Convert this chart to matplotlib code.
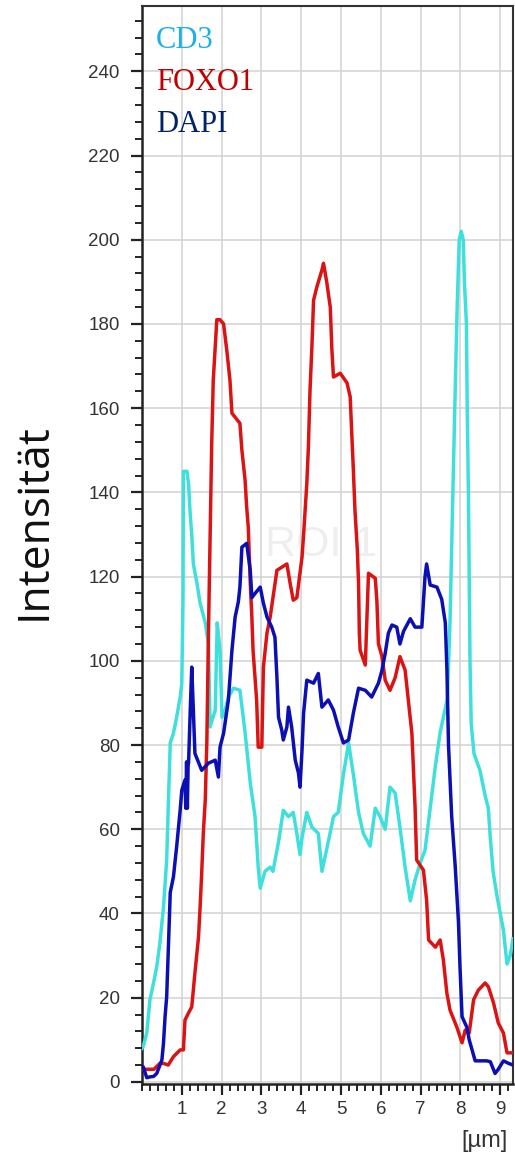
import matplotlib.pyplot as plt
from matplotlib.ticker import MultipleLocator

# profile values (x in µm, intensity)
cd3_x = [0.00, 0.03, 0.12, 0.20, 0.29, 0.37, 0.45, 0.54, 0.58, 0.62, 0.66, 0.71, 0.79, 0.87,
         0.96, 1.00, 1.03, 1.04, 1.13, 1.17, 1.21, 1.25, 1.29, 1.38, 1.46, 1.59, 1.67, 1.69,
         1.71, 1.84, 1.89, 1.96, 2.01, 2.09, 2.17, 2.30, 2.46, 2.59, 2.72, 2.84, 2.92, 2.97,
         3.09, 3.22, 3.29, 3.43, 3.55, 3.68, 3.80, 3.89, 3.97, 4.02, 4.14, 4.27, 4.43, 4.52,
         4.68, 4.81, 4.93, 5.06, 5.19, 5.31, 5.44, 5.56, 5.73, 5.86, 5.98, 6.11, 6.23, 6.36,
         6.48, 6.61, 6.74, 6.86, 6.99, 7.11, 7.24, 7.37, 7.49, 7.67, 7.74, 7.81, 7.87, 7.92,
         7.97, 8.02, 8.07, 8.10, 8.15, 8.17, 8.20, 8.22, 8.24, 8.27, 8.34, 8.49, 8.62, 8.70,
         8.75, 8.82, 8.92, 9.00, 9.08, 9.17, 9.25, 9.32]
cd3_y = [8, 8.4, 11.6, 19.5, 23.5, 27.3, 33, 41.5, 47, 52.7, 65.3, 80.5, 82.8, 86.6,
         91.4, 94.7, 114, 145, 145, 142, 135, 130, 123, 118.5, 113.7, 109, 104, 94.7,
         84.3, 88.3, 109, 102.5, 86.6, 88.3, 91.4, 93.5, 93, 83, 71, 63, 51, 46,
         50, 51, 50, 57, 64.5, 63, 64, 59, 54, 58, 64, 60.5, 59, 50,
         57, 63, 64, 73, 80.5, 73, 64, 59, 56, 65, 63, 60, 70, 68.6,
         60.5, 51, 43, 48, 52, 55, 65, 75, 83, 91, 110, 140, 165, 185,
         200, 202, 200, 190, 180, 160, 140, 120, 100, 85, 78, 74, 68, 65,
         58, 50, 44, 40, 36, 28, 30, 34]

foxo1_x = [0.00, 0.30, 0.45, 0.54, 0.66, 0.79, 0.96, 1.04, 1.08, 1.17, 1.25, 1.33, 1.42, 1.46,
           1.50, 1.54, 1.59, 1.63, 1.67, 1.71, 1.75, 1.79, 1.88, 1.96, 2.05, 2.13, 2.21, 2.26,
           2.46, 2.51, 2.59, 2.63, 2.67, 2.72, 2.76, 2.79, 2.88, 2.92, 3.01, 3.05, 3.14, 3.22,
           3.39, 3.64, 3.72, 3.80, 3.89, 4.02, 4.06, 4.14, 4.18, 4.22, 4.27, 4.31, 4.39, 4.52,
           4.56, 4.64, 4.73, 4.77, 4.81, 4.98, 5.15, 5.23, 5.27, 5.31, 5.35, 5.41, 5.44, 5.46,
           5.48, 5.61, 5.65, 5.69, 5.86, 5.90, 5.94, 6.03, 6.11, 6.23, 6.36, 6.48, 6.61, 6.69,
           6.78, 6.86, 6.90, 7.07, 7.15, 7.20, 7.37, 7.49, 7.57, 7.66, 7.74, 7.91, 8.04, 8.12,
           8.22, 8.33, 8.45, 8.62, 8.70, 8.83, 8.95, 9.08, 9.17, 9.32]
foxo1_y = [3, 3, 4.4, 4.4, 4, 6, 7.6, 7.6, 14.7, 16.4, 17.8, 25.9, 34.4, 41.5,
           49.6, 59, 67, 81.2, 106.6, 128.7, 151, 166.6, 181, 181, 180, 173.8, 166.6, 158.8,
           156.4, 150, 142.9, 136.5, 131.7, 118.5, 110.4, 102.5, 90.7, 79.5, 79.5, 98.5, 106.6, 110.4,
           121.5, 123, 118.5, 114.4, 115, 124.6, 130, 142, 150.7, 164, 175, 185.6, 188.7, 192.8,
           194.4, 190, 184, 174, 167.4, 168.3, 166, 162.7, 154, 145.3, 135.8, 126.3, 118.5, 106.6,
           102.5, 99, 110, 120.8, 119.6, 114.4, 104, 101, 95.4, 93, 96, 101, 97.8, 90.7,
           82.8, 65.3, 52.7, 50.3, 43.2, 33.7, 32, 33.7, 29, 21, 17, 13, 9.3, 12.3,
           11.6, 19.5, 21.8, 23.5, 22.6, 18.8, 14, 11.6, 6.9, 6.9]

dapi_x = [0.00, 0.03, 0.12, 0.20, 0.29, 0.37, 0.50, 0.54, 0.58, 0.62, 0.66, 0.71, 0.79, 0.87,
          0.96, 1.00, 1.08, 1.10, 1.12, 1.14, 1.16, 1.17, 1.21, 1.25, 1.29, 1.33, 1.50, 1.67,
          1.84, 1.92, 1.96, 2.05, 2.17, 2.26, 2.34, 2.42, 2.46, 2.51, 2.63, 2.72, 2.76, 2.84,
          2.97, 3.05, 3.14, 3.26, 3.34, 3.39, 3.43, 3.51, 3.55, 3.64, 3.68, 3.76, 3.85, 3.93,
          3.97, 4.02, 4.06, 4.14, 4.31, 4.43, 4.52, 4.68, 4.81, 4.93, 5.06, 5.19, 5.31, 5.44,
          5.61, 5.77, 5.94, 6.03, 6.11, 6.19, 6.28, 6.40, 6.48, 6.57, 6.74, 6.86, 7.03, 7.11,
          7.15, 7.24, 7.41, 7.53, 7.62, 7.66, 7.70, 7.78, 7.87, 7.95, 7.99, 8.04, 8.16, 8.22,
          8.37, 8.66, 8.75, 8.87, 8.95, 9.08, 9.21, 9.32]
dapi_y = [3.6, 3.6, 1, 1.2, 1.3, 2, 5.2, 9.2, 15.5, 20.2, 31, 45, 48.7, 55.8,
          64.6, 69.3, 71.7, 65, 76, 65, 76, 75.7, 87.6, 98.5, 88.3, 78, 74, 75.7,
          76.4, 72.4, 79.5, 82.8, 90.7, 102.5, 110.4, 114, 117.5, 127, 127.9, 121.5, 115, 116,
          117.5, 113.7, 110.4, 108, 105.6, 96, 86.6, 83.6, 81.2, 84.3, 89, 84.3, 76.4, 73.4,
          70, 78.8, 87.6, 95.4, 94.7, 97, 89, 90.7, 88.3, 84.3, 80.5, 81.2, 87.6, 93.5,
          93, 91.4, 94.7, 97.8, 101.8, 106.6, 108.5, 108, 104, 107, 110, 108, 108, 120,
          123, 118, 117.5, 114.6, 109, 98, 80, 63, 51, 38, 27, 15.5, 13, 10,
          5, 5, 4.8, 2, 3, 5, 4.4, 4]

fig = plt.figure(figsize=(5.15, 11.59), dpi=100)
ax = fig.add_axes([0.2757, 0.0647, 0.7204, 0.9301])

# faint background label of the original software
ax.text(4.5, 127.5, 'ROI 1', color='#eeeeee', fontsize=31,
        family='Liberation Sans', ha='center', va='center', zorder=0.5)

ax.plot(cd3_x, cd3_y, color='#3fe0dc', lw=2.5, zorder=3)
ax.plot(foxo1_x, foxo1_y, color='#da1414', lw=2.5, zorder=4)
ax.plot(dapi_x, dapi_y, color='#0c10b2', lw=2.5, zorder=5)

ax.set_xlim(0, 9.32)
ax.set_ylim(-0.5, 255.5)
ax.set_xticks(range(1, 10))
ax.xaxis.set_minor_locator(MultipleLocator(0.2))
ax.set_yticks(range(0, 241, 20))
ax.yaxis.set_minor_locator(MultipleLocator(4))
ax.grid(which='major', color='#d2d2d2', lw=1.1)
ax.set_axisbelow(True)

ax.tick_params(which='major', direction='out', length=8, width=1.6, color='#222222',
               labelsize=13.5, labelcolor='#333333', labelfontfamily='Liberation Sans')
ax.tick_params(axis='y', which='major', pad=8)
ax.tick_params(axis='x', which='major', pad=4)
ax.tick_params(which='minor', direction='out', length=5, width=1.4, color='#222222')

for side in ['left', 'bottom']:
    ax.spines[side].set_linewidth(1.8)
    ax.spines[side].set_color('#222222')
for side in ['top', 'right']:
    ax.spines[side].set_linewidth(1.5)
    ax.spines[side].set_color('#333333')

fig.text(508 / 515, 1 - 1141 / 1159, '[µm]', ha='right', va='center', fontsize=17,
         color='#333333', family='Liberation Sans')
fig.text(34 / 515, 1 - 522 / 1159, 'Intensität', rotation=90, ha='center', va='center',
         fontsize=32, color='#111111', family='Open Sans')

# coloured legend words
fig.text(156 / 515, 1 - 48 / 1159, 'CD3', color='#1ab0e8', fontsize=22,
         family='Liberation Serif', va='baseline')
fig.text(156 / 515, 1 - 90 / 1159, 'FOXO1', color='#c00000', fontsize=22,
         family='Liberation Serif', va='baseline')
fig.text(156 / 515, 1 - 132 / 1159, 'DAPI', color='#002366', fontsize=22,
         family='Liberation Serif', va='baseline')

fig.savefig('out.png', dpi=100)
